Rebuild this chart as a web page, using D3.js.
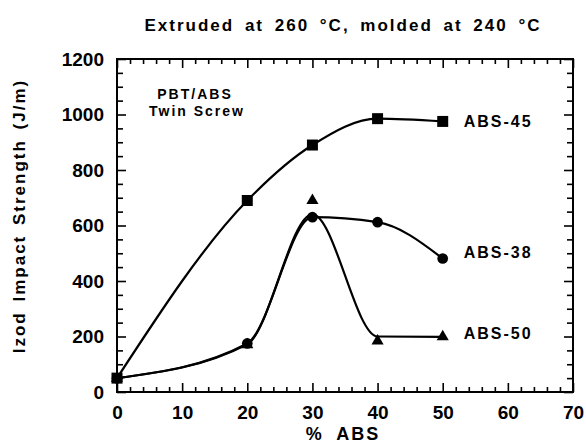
<!DOCTYPE html>
<html>
<head>
  <meta charset="utf-8">
  <title>Izod impact strength vs % ABS</title>
  <style>
    body { margin: 0; background: #fff; }
    svg text { font-family: "Liberation Sans", Arial, sans-serif; font-weight: bold; fill: #000; }
  </style>
</head>
<body>
  <svg id="main" width="586" height="444"></svg>

  <script src="https://cdn.jsdelivr.net/npm/d3@7/dist/d3.min.js"></script>
  <script>
    // data
    const pctABS = [0, 20, 30, 40, 50]
    const abs45 = [50, 690, 890, 985, 975]
    const abs38 = [50, 175, 630, 612, 481]
    const abs50 = [50, 170, 690, 184, 199]
    // hand drawn curve for ABS-50 does not go through the 30% triangle
    const abs50Curve = [50, 172, 640, 200, 199]

    const xTicks = [0, 10, 20, 30, 40, 50, 60, 70]
    const yTicks = [0, 200, 400, 600, 800, 1000, 1200]

    const svg = d3.select('#main')
    const width = +svg.attr('width')
    const height = +svg.attr('height')
    const margin = { top: 59, right: 13, bottom: 52, left: 117 }
    const innerWidth = width - margin.left - margin.right
    const innerHeight = height - margin.top - margin.bottom

    const chart = svg.append('g')
      .attr('transform', `translate(${margin.left},${margin.top})`)

    const xScale = d3.scaleLinear().domain([0, 70]).range([0, innerWidth])
    const yScale = d3.scaleLinear().domain([0, 1200]).range([innerHeight, 0])

    const xMinor = d3.range(0, 71, 2).filter(d => d % 10 !== 0)
    const yMinor = d3.range(0, 1201, 50).filter(d => d % 200 !== 0)

    // inward ticks on all four sides
    function tickSide(axisFn, scale, values, size, transform) {
      const g = chart.append('g')
        .attr('transform', transform)
        .call(axisFn(scale).tickValues(values).tickSizeInner(-size).tickSizeOuter(0))
      g.select('.domain').remove()
      g.selectAll('.tick text').remove()
      g.selectAll('.tick line').attr('stroke', '#000').attr('stroke-width', 1.6)
    }
    tickSide(d3.axisBottom, xScale, xTicks, 9, `translate(0,${innerHeight})`)
    tickSide(d3.axisBottom, xScale, xMinor, 5, `translate(0,${innerHeight})`)
    tickSide(d3.axisTop, xScale, xTicks, 9, 'translate(0,0)')
    tickSide(d3.axisTop, xScale, xMinor, 5, 'translate(0,0)')
    tickSide(d3.axisLeft, yScale, yTicks, 9, 'translate(0,0)')
    tickSide(d3.axisLeft, yScale, yMinor, 6, 'translate(0,0)')
    tickSide(d3.axisRight, yScale, yTicks, 9, `translate(${innerWidth},0)`)
    tickSide(d3.axisRight, yScale, yMinor, 6, `translate(${innerWidth},0)`)

    chart.append('rect')
      .attr('width', innerWidth)
      .attr('height', innerHeight)
      .attr('fill', 'none')
      .attr('stroke', '#000')
      .attr('stroke-width', 2)

    // tick labels
    const xLab = chart.append('g')
      .attr('transform', `translate(0,${innerHeight})`)
      .call(d3.axisBottom(xScale).tickValues(xTicks).tickFormat(d3.format('d')).tickSize(0).tickPadding(14))
    xLab.select('.domain').remove()

    const yLab = chart.append('g')
      .call(d3.axisLeft(yScale).tickValues(yTicks).tickFormat(d3.format('d')).tickSize(0).tickPadding(13))
    yLab.select('.domain').remove()

    chart.selectAll('.tick text')
      .attr('font-size', 19)
      .attr('font-family', '"Liberation Sans", Arial, sans-serif')
      .attr('font-weight', 'bold')
      .attr('fill', '#000')

    // lines
    const series = [
      { name: 'ABS-45', values: abs45, curve: abs45, symbol: d3.symbolSquare, size: 121, dy: 0 },
      { name: 'ABS-38', values: abs38, curve: abs38, symbol: d3.symbolCircle, size: 90, dy: -6 },
      { name: 'ABS-50', values: abs50, curve: abs50Curve, symbol: d3.symbolTriangle, size: 64, dy: -4 }
    ]

    const line = d3.line()
      .x(d => xScale(d[0]))
      .y(d => yScale(d[1]))
      .curve(d3.curveMonotoneX)

    series.forEach(s => {
      chart.append('path')
        .datum(pctABS.map((p, i) => [p, s.curve[i]]))
        .attr('fill', 'none')
        .attr('stroke', '#000')
        .attr('stroke-width', 2.2)
        .attr('stroke-linejoin', 'round')
        .attr('d', line)
    })

    series.forEach(s => {
      chart.append('g').selectAll('path')
        .data(pctABS.map((p, i) => [p, s.values[i]]))
        .join('path')
        .attr('transform', d => `translate(${xScale(d[0])},${yScale(d[1])})`)
        .attr('d', d3.symbol(s.symbol, s.size))
        .attr('fill', '#000')

      const last = s.values[s.values.length - 1]
      chart.append('text')
        .attr('x', xScale(50) + 21)
        .attr('y', yScale(last) + s.dy)
        .attr('dy', '0.36em')
        .attr('font-size', 16)
        .style('letter-spacing', '2px')
        .text(s.name)
    })

    // annotation
    chart.append('text')
      .attr('x', 78).attr('y', 35)
      .attr('dy', '0.36em')
      .attr('text-anchor', 'middle')
      .attr('font-size', 14)
      .style('letter-spacing', '2px')
      .text('PBT/ABS')
    chart.append('text')
      .attr('x', 80).attr('y', 52)
      .attr('dy', '0.36em')
      .attr('text-anchor', 'middle')
      .attr('font-size', 14)
      .style('letter-spacing', '2px')
      .text('Twin Screw')

    // titles
    svg.append('text')
      .attr('x', 343).attr('y', 25)
      .attr('dy', '0.36em')
      .attr('text-anchor', 'middle')
      .attr('font-size', 17)
      .style('letter-spacing', '2px')
      .style('word-spacing', '4px')
      .text('Extruded at 260 °C, molded at 240 °C')

    svg.append('text')
      .attr('x', 343).attr('y', 434)
      .attr('dy', '0.36em')
      .attr('text-anchor', 'middle')
      .attr('font-size', 18)
      .style('letter-spacing', '2px')
      .style('word-spacing', '6px')
      .text('% ABS')

    svg.append('text')
      .attr('transform', 'translate(19,216) rotate(-90)')
      .attr('dy', '0.36em')
      .attr('text-anchor', 'middle')
      .attr('font-size', 17)
      .style('letter-spacing', '2px')
      .style('word-spacing', '3px')
      .text('Izod Impact Strength (J/m)')
  </script>
</body>
</html>
